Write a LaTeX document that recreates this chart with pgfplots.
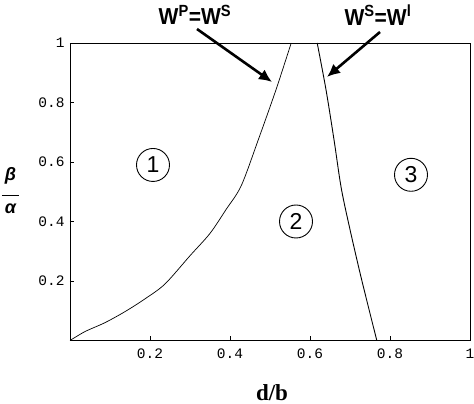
\documentclass[border=0pt]{standalone}
\usepackage{fontspec}
\setmainfont{Liberation Serif}
\newfontfamily\monof{Liberation Mono}
\newfontfamily\sansf{Liberation Sans}
\usepackage{pgfplots}
\pgfplotsset{compat=1.18}
\usetikzlibrary{arrows.meta}
\tikzset{numc/.style={circle, draw, line width=0.9pt, minimum size=33pt, inner sep=0pt,
        font=\sansf\fontsize{23}{23}\selectfont}}
\begin{document}
\begin{tikzpicture}[x=1pt,y=1pt]
\useasboundingbox (-70,-63.5) rectangle (404,340.5);
\begin{axis}[
  at={(0,0)}, anchor=south west,
  scale only axis, width=400pt, height=297.5pt,
  xmin=0, xmax=1, ymin=0, ymax=1,
  xtick={0.2,0.4,0.6,0.8,1}, ytick={0.2,0.4,0.6,0.8,1},
  xticklabels={0.2,0.4,0.6,0.8,1}, yticklabels={0.2,0.4,0.6,0.8,1},
  tick align=inside, major tick length=4pt,
  xtick pos=bottom, ytick pos=left,
  tick style={black, line width=0.6pt},
  axis line style={line width=0.8pt},
  ticklabel style={font=\monof\fontsize{14.5}{14.5}\selectfont},
  xticklabel style={yshift=-5pt},
  yticklabel style={xshift=-2pt},
  clip=false,
]
\addplot[black, line width=0.7pt, smooth] coordinates {
(0,0) (0.0375,0.03) (0.0875,0.06) (0.1375,0.097) (0.1875,0.14) (0.2375,0.19)
(0.3,0.285) (0.35,0.36) (0.39,0.44) (0.428,0.52) (0.47,0.672) (0.515,0.843) (0.553,1)};
\addplot[black, line width=0.9pt, smooth] coordinates {
(0.618,1) (0.64,0.843) (0.66,0.675) (0.678,0.513) (0.70,0.373) (0.729,0.205) (0.767,0)};
\node[font=\sansf\bfseries\fontsize{21}{21}\selectfont, yscale=1.1] at (axis cs:0.3125,1.094) {W\textsuperscript{P}=W\textsuperscript{S}};
\node[font=\sansf\bfseries\fontsize{21}{21}\selectfont, yscale=1.1] at (axis cs:0.77,1.094) {W\textsuperscript{S}=W\textsuperscript{l}};
\draw[line width=2.6pt, -{Latex[length=13pt,width=12pt]}] (axis cs:0.3175,1.047) -- (axis cs:0.505,0.869);
\draw[line width=2.6pt, -{Latex[length=13pt,width=12pt]}] (axis cs:0.775,1.037) -- (axis cs:0.6425,0.886);
\node[numc] at (axis cs:0.2075,0.59) {1};
\node[numc] at (axis cs:0.565,0.40) {2};
\node[numc] at (axis cs:0.8525,0.557) {3};
\node[font=\bfseries\fontsize{23}{23}\selectfont] at (axis cs:0.505,-0.175) {d/b};
\node[font=\sansf\bfseries\itshape\fontsize{18}{18}\selectfont, align=center, inner sep=0pt]
  at (axis cs:-0.149,0.505) {β\\[-2pt]\rule{17pt}{1.2pt}\\[-1pt]α};
\end{axis}
\end{tikzpicture}
\end{document}
